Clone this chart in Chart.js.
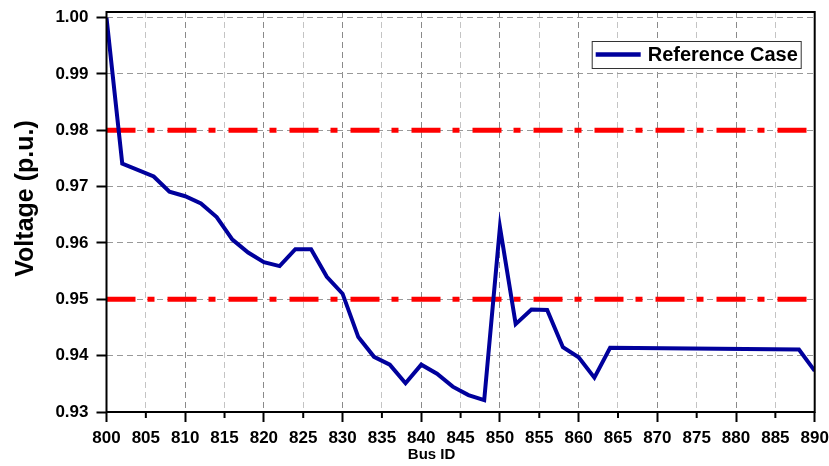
<!DOCTYPE html>
<html>
<head>
<meta charset="utf-8">
<script src="https://cdn.jsdelivr.net/npm/chart.js@4.4.1/dist/chart.umd.min.js"></script>
<style>
  html, body { margin: 0; padding: 0; background: #fff; }
  #wrap { width: 829px; height: 466px; position: relative; }
</style>
</head>
<body>
<div id="wrap"><canvas id="voltageChart"></canvas></div>
<script>
// Bus voltage profile along the feeder
const busIds = [800, 802, 806, 808, 810, 812, 814, 816, 818, 820, 822, 824, 826, 828, 830, 832, 834,
                836, 838, 840, 842, 844, 846, 848, 850, 852, 854, 856, 858, 860, 862, 864, 888, 890];
const voltages = [1.0000, 0.9741, 0.9718, 0.9691, 0.9683, 0.9670, 0.9646, 0.9606, 0.9583, 0.9566,
                  0.9559, 0.9589, 0.9589, 0.9540, 0.9510, 0.9433, 0.9398, 0.9384, 0.9351, 0.9384,
                  0.9368, 0.9345, 0.9330, 0.9321, 0.9628, 0.9456, 0.9482, 0.9481, 0.9415, 0.9397,
                  0.9361, 0.9414, 0.9411, 0.9373];
const upperLimit = 0.98;
const lowerLimit = 0.95;
const xTicks = [800, 805, 810, 815, 820, 825, 830, 835, 840, 845, 850, 855, 860, 865, 870, 875, 880, 885, 890];
const yTicks = [0.93, 0.94, 0.95, 0.96, 0.97, 0.98, 0.99, 1.00];
const seriesLabel = 'Reference Case';
const xTitle = 'Bus ID';
const yTitle = 'Voltage (p.u.)';

const FONT = '"Liberation Sans", Arial, Helvetica, sans-serif';
const BLUE = '#00009c';
const RED = '#ff0000';

const limitLine = (v) => [{ x: xTicks[0], y: v }, { x: xTicks[xTicks.length - 1], y: v }];

// Frame, short minor ticks, axis titles and the inset legend
const decorations = {
  id: 'decorations',
  afterDraw(chart) {
    const { ctx, chartArea: a, scales: { x } } = chart;
    ctx.save();
    ctx.strokeStyle = '#000';
    ctx.lineWidth = 2;
    ctx.setLineDash([]);
    // short ticks at the 5s
    xTicks.filter(v => v % 10 !== 0).forEach(v => {
      const px = x.getPixelForValue(v);
      ctx.beginPath();
      ctx.moveTo(px, a.bottom);
      ctx.lineTo(px, a.bottom + 6);
      ctx.stroke();
    });
    // plot frame
    ctx.strokeRect(a.left, a.top, a.right - a.left, a.bottom - a.top);

    // axis titles
    ctx.fillStyle = '#000';
    ctx.textAlign = 'center';
    ctx.textBaseline = 'middle';
    ctx.font = 'bold 15px ' + FONT;
    ctx.fillText(xTitle, a.left + (a.right - a.left) * 0.459, chart.height - 11);
    ctx.save();
    ctx.translate(26, (a.top + a.bottom) / 2 - 13.5);
    ctx.rotate(-Math.PI / 2);
    ctx.font = 'bold 25px ' + FONT;
    ctx.fillText(yTitle, 0, 0);
    ctx.restore();

    // legend box
    const ds = chart.data.datasets[0];
    const lw = 209, lh = 27;
    const lx = a.right - 14 - lw, ly = a.top + 29;
    ctx.fillStyle = '#fff';
    ctx.fillRect(lx, ly, lw, lh);
    ctx.lineWidth = 1;
    ctx.strokeStyle = '#333';
    ctx.strokeRect(lx + 0.5, ly + 0.5, lw, lh);
    ctx.strokeStyle = ds.borderColor;
    ctx.lineWidth = 4.5;
    ctx.beginPath();
    ctx.moveTo(lx + 4, ly + lh / 2);
    ctx.lineTo(lx + 49, ly + lh / 2);
    ctx.stroke();
    ctx.fillStyle = '#000';
    ctx.textAlign = 'left';
    ctx.font = 'bold 20px ' + FONT;
    ctx.fillText(ds.label, lx + 56, ly + lh / 2 + 1);
    ctx.restore();
  }
};

new Chart(document.getElementById('voltageChart'), {
  type: 'line',
  data: {
    datasets: [
      {
        label: seriesLabel,
        data: busIds.map((b, i) => ({ x: b, y: voltages[i] })),
        borderColor: BLUE,
        backgroundColor: BLUE,
        borderWidth: 4,
        pointRadius: 0,
        tension: 0,
        fill: false
      },
      {
        label: 'Upper limit',
        data: limitLine(upperLimit),
        borderColor: RED,
        borderWidth: 5,
        borderDash: [29, 12, 7, 13],
        borderCapStyle: 'butt',
        pointRadius: 0,
        fill: false
      },
      {
        label: 'Lower limit',
        data: limitLine(lowerLimit),
        borderColor: RED,
        borderWidth: 5,
        borderDash: [29, 12, 7, 13],
        borderCapStyle: 'butt',
        pointRadius: 0,
        fill: false
      }
    ]
  },
  options: {
    responsive: true,
    maintainAspectRatio: false,
    animation: false,
    layout: { padding: { top: 12, right: 14.3, left: 0, bottom: 0 } },
    plugins: {
      legend: { display: false },
      tooltip: { enabled: false },
      title: { display: false }
    },
    scales: {
      x: {
        type: 'linear',
        min: xTicks[0],
        max: xTicks[xTicks.length - 1],
        afterBuildTicks: s => { s.ticks = xTicks.map(v => ({ value: v })); },
        afterFit: s => { s.height = 54; s.paddingLeft = 0; s.paddingRight = 0; },
        ticks: {
          autoSkip: false,
          maxRotation: 0,
          padding: 6,
          color: '#000',
          font: { family: FONT, size: 17, weight: 'bold' },
          callback: v => String(v)
        },
        grid: {
          color: c => (c.tick && c.tick.value % 10 === 0) ? '#8a8a8a' : '#c4c4c4',
          lineWidth: 1,
          drawTicks: true,
          tickLength: 10,
          tickWidth: 2,
          tickColor: c => (c.tick && c.tick.value % 10 === 0) ? '#000' : 'rgba(0,0,0,0)',
          tickBorderDash: []
        },
        border: { display: false, dash: [6, 4] }
      },
      y: {
        type: 'linear',
        min: yTicks[0],
        max: 1.001,
        afterBuildTicks: s => { s.ticks = yTicks.map(v => ({ value: v })); },
        afterFit: s => { s.width = 106.5; s.paddingTop = 0; s.paddingBottom = 0; },
        ticks: {
          padding: 8,
          color: '#000',
          font: { family: FONT, size: 17, weight: 'bold' },
          callback: v => Number(v).toFixed(2)
        },
        grid: {
          color: '#999',
          lineWidth: 1,
          drawTicks: true,
          tickLength: 10,
          tickWidth: 2,
          tickColor: '#000',
          tickBorderDash: []
        },
        border: { display: false, dash: [6, 4] }
      }
    }
  },
  plugins: [decorations]
});
</script>
</body>
</html>
